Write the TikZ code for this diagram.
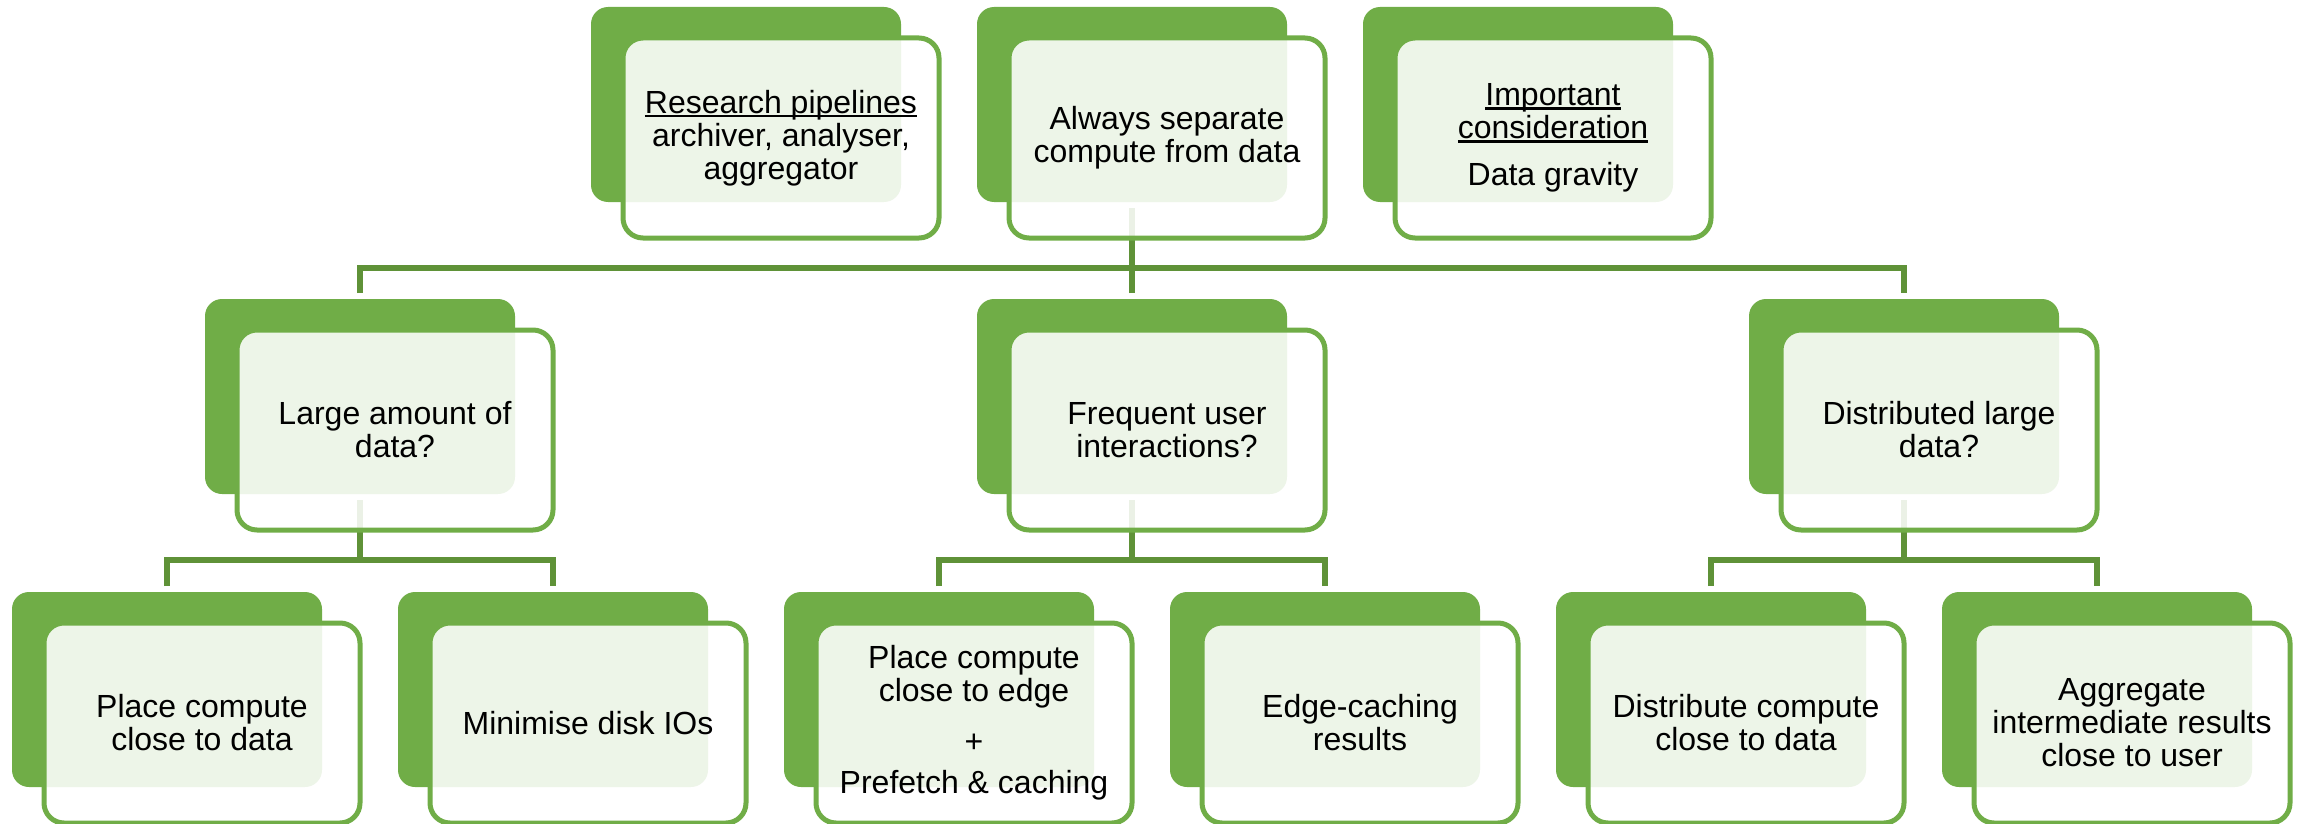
\documentclass[tikz,border=0pt]{standalone}
\usepackage{fontspec}
\setmainfont{Liberation Sans}
\definecolor{boxgreen}{HTML}{70AD47}
\definecolor{conngreen}{HTML}{5F9238}
\newcommand{\myul}[1]{\setbox0\hbox{#1}\rlap{\rule[-4pt]{\wd0}{2.2pt}}\box0}
\begin{document}
\begin{tikzpicture}[x=1pt,y=-1pt,
  back/.style={rectangle, rounded corners=17pt, fill=boxgreen, minimum width=310pt,
    minimum height=195pt, inner sep=0pt, outer sep=0pt, anchor=north west},
  front/.style={rectangle, rounded corners=20pt, draw=boxgreen, line width=5pt,
    fill=white, fill opacity=0.88, text opacity=1, text=black,
    minimum width=316pt, minimum height=200pt, inner sep=0pt, outer sep=0pt,
    align=center, font=\fontsize{32}{33}\selectfont, anchor=north west},
  conn/.style={draw=conngreen, line width=5.5pt}]
\useasboundingbox (0,0) rectangle (2307,824);
% back boxes
\node[back] (T1) at (591,7) {};
\node[back] (T2) at (977,7) {};
\node[back] (T3) at (1363,7) {};
\node[back] (M1) at (205,299) {};
\node[back] (M2) at (977,299) {};
\node[back] (M3) at (1749,299) {};
\node[back] (B1) at (12,592) {};
\node[back] (B2) at (398,592) {};
\node[back] (B3) at (784,592) {};
\node[back] (B4) at (1170,592) {};
\node[back] (B5) at (1556,592) {};
\node[back] (B6) at (1942,592) {};
% bus coordinates
\coordinate (bus0) at (0,268);
\coordinate (bus1) at (0,560);
% connectors
\draw[conn] ([yshift=-6pt]T2.south) -- (T2.south |- bus0);
\draw[conn] ([yshift=6pt]M1.north) |- (M3.north |- bus0) -- ([yshift=6pt]M3.north);
\draw[conn] ([yshift=6pt]M2.north) -- (M2.north |- bus0);
\draw[conn] ([yshift=-6pt]M1.south) -- (M1.south |- bus1);
\draw[conn] ([yshift=6pt]B1.north) |- (B2.north |- bus1) -- ([yshift=6pt]B2.north);
\draw[conn] ([yshift=-6pt]M2.south) -- (M2.south |- bus1);
\draw[conn] ([yshift=6pt]B3.north) |- (B4.north |- bus1) -- ([yshift=6pt]B4.north);
\draw[conn] ([yshift=-6pt]M3.south) -- (M3.south |- bus1);
\draw[conn] ([yshift=6pt]B5.north) |- (B6.north |- bus1) -- ([yshift=6pt]B6.north);
% front boxes with text
\node[front] (T1f) at ([shift={(32,31)}]T1.north west) {\myul{Research pipelines}\\archiver, analyser,\\aggregator};
\node[front] (T2f) at ([shift={(32,31)}]T2.north west) {Always separate\\compute from data};
\node[front] (T3f) at ([shift={(32,31)}]T3.north west) {\myul{Important}\\\myul{consideration}\\[14pt]Data gravity};
\node[front] (M1f) at ([shift={(32,31)}]M1.north west) {Large amount of\\data?};
\node[front] (M2f) at ([shift={(32,31)}]M2.north west) {Frequent user\\interactions?};
\node[front] (M3f) at ([shift={(32,31)}]M3.north west) {Distributed large\\data?};
\node[front] (B1f) at ([shift={(32,31)}]B1.north west) {Place compute\\close to data};
\node[front] (B2f) at ([shift={(32,31)}]B2.north west) {Minimise disk IOs};
\node[front] (B3f) at ([shift={(32,31)}]B3.north west) {Place compute\\close to edge\\[18pt]+\\[8pt]Prefetch \& caching};
\node[front] (B4f) at ([shift={(32,31)}]B4.north west) {Edge-caching\\results};
\node[front] (B5f) at ([shift={(32,31)}]B5.north west) {Distribute compute\\close to data};
\node[front] (B6f) at ([shift={(32,31)}]B6.north west) {Aggregate\\intermediate results\\close to user};
\end{tikzpicture}
\end{document}
